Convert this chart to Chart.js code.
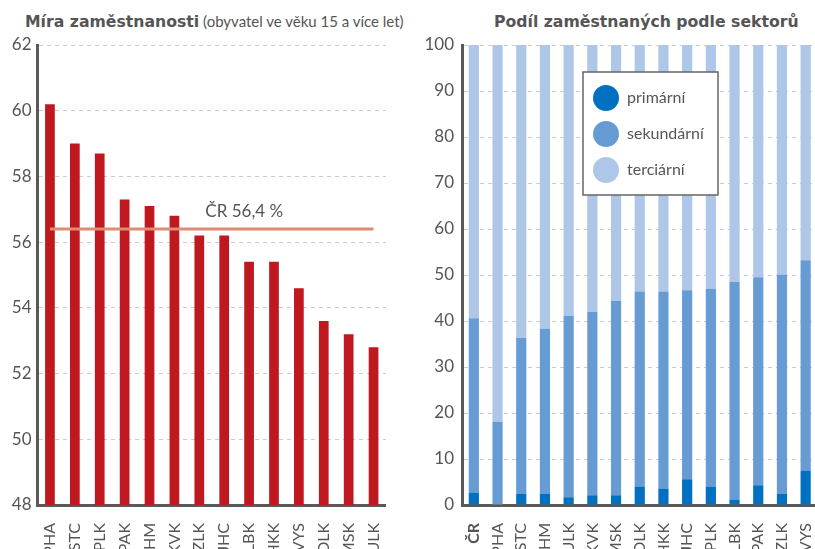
<!DOCTYPE html>
<html>
<head>
<meta charset="utf-8">
<script src="https://cdn.jsdelivr.net/npm/chart.js@4.4.1/dist/chart.umd.min.js"></script>
<style>
    html, body { margin: 0; padding: 0; width: 815px; height: 549px; overflow: hidden; background: #fff; }
    body { position: relative; font-family: Lato, "Open Sans", sans-serif; color: #555; }
    .title { position: absolute; top: 12px; font-size: 15px; white-space: nowrap; color: #555; font-family: Lato, sans-serif; }
    .title b { font-family: "DejaVu Sans", sans-serif; font-weight: bold; font-size: 15.7px; }
    #leftBox { position: absolute; left: 0; top: 0; width: 386px; height: 575px; }
    #rightBox { position: absolute; left: 405px; top: 0; width: 415px; height: 575px; }
</style>
</head>
<body>
<div class="title" style="left:25px"><b>Míra zaměstnanosti</b> (obyvatel ve věku 15 a více let)</div>
<div class="title" style="left:494px"><b>Podíl zaměstnaných podle sektorů</b></div>
<div id="leftBox"><canvas id="rateChart"></canvas></div>
<div id="rightBox"><canvas id="sectorChart"></canvas></div>

<script>
// employment rate by region (%)
const rateRegions = ['PHA', 'STC', 'PLK', 'PAK', 'JHM', 'KVK', 'ZLK', 'JHC', 'LBK', 'HKK', 'VYS', 'OLK', 'MSK', 'ULK'];
const rateValues = [60.2, 59.0, 58.7, 57.3, 57.1, 56.8, 56.2, 56.2, 55.4, 55.4, 54.6, 53.6, 53.2, 52.8];
const crRate = 56.4;
const crLine = [56.4, 56.4, 56.4, 56.4, 56.4, 56.4, 56.4, 56.4, 56.4, 56.4, 56.4, 56.4, 56.4, 56.4];
const rateTicks = [48, 50, 52, 54, 56, 58, 60, 62];

// share of employed by sector (%)
const sectorRegions = ['ČR', 'PHA', 'STC', 'JHM', 'ULK', 'KVK', 'MSK', 'OLK', 'HKK', 'JHC', 'PLK', 'LBK', 'PAK', 'ZLK', 'VYS'];
const primary   = [2.7, 0.1, 2.4, 2.4, 1.7, 2.1, 2.1, 4.0, 3.6, 5.6, 4.0, 1.2, 4.3, 2.4, 7.5];
const secondary = [37.9, 18.0, 33.9, 35.9, 39.4, 39.9, 42.3, 42.4, 42.8, 41.1, 43.0, 47.3, 45.2, 47.7, 45.7];
const tertiary  = [59.4, 81.9, 63.7, 61.7, 58.9, 58.0, 55.6, 53.6, 53.6, 53.3, 53.0, 51.5, 50.5, 49.9, 46.8];
const sectorTicks = [0, 10, 20, 30, 40, 50, 60, 70, 80, 90, 100];

const textColor = '#555555';
const axisColor = '#595959';
const gridColor = '#cccccc';
const fontFamily = 'Lato, "Open Sans", sans-serif';

const crLabelPlugin = {
    id: 'crLabel',
    afterDatasetsDraw(chart) {
        const { ctx, scales } = chart;
        const y = scales.y.getPixelForValue(crRate) - 17;
        const x = scales.x.getPixelForValue(6) + 6;
        ctx.save();
        ctx.font = '17px ' + fontFamily;
        ctx.fillStyle = textColor;
        ctx.textBaseline = 'middle';
        ctx.fillText('ČR ' + String(crRate).replace('.', ',') + ' %', x, y);
        ctx.restore();
    }
};

const sectorLegendPlugin = {
    id: 'sectorLegend',
    afterDraw(chart) {
        const { ctx, chartArea } = chart;
        const left = chartArea.left + 121;
        const top = chartArea.top + 27;
        ctx.save();
        ctx.fillStyle = '#ffffff';
        ctx.fillRect(left, top, 135, 123);
        ctx.strokeStyle = '#666666';
        ctx.lineWidth = 1.5;
        ctx.strokeRect(left, top, 135, 123);
        ctx.font = '16px ' + fontFamily;
        ctx.textBaseline = 'middle';
        chart.data.datasets.forEach((ds, i) => {
            const cy = top + 26 + i * 36;
            ctx.fillStyle = ds.backgroundColor;
            ctx.beginPath();
            ctx.arc(left + 23, cy, 13, 0, Math.PI * 2);
            ctx.fill();
            ctx.fillStyle = textColor;
            ctx.fillText(ds.label, left + 44, cy);
        });
        ctx.restore();
    }
};

function yTicksFrom(list) {
    return function (scale) {
        scale.ticks = list.map(v => ({ value: v }));
    };
}

// keep the category axis flush with the canvas edges
function xFit(s) {
    s.height = 70;
    s.paddingLeft = 0;
    s.paddingRight = 0;
}

new Chart(document.getElementById('rateChart'), {
    type: 'bar',
    data: {
        labels: rateRegions,
        datasets: [
            {
                type: 'line',
                label: 'ČR',
                data: crLine,
                borderColor: '#e08b73',
                borderWidth: 3,
                pointRadius: 0,
                order: 0
            },
            {
                label: 'Míra zaměstnanosti',
                data: rateValues,
                backgroundColor: '#c0181f',
                barPercentage: 0.39,
                categoryPercentage: 1,
                order: 1
            }
        ]
    },
    options: {
        responsive: true,
        maintainAspectRatio: false,
        animation: false,
        layout: { padding: { top: 45, right: 0, left: 0, bottom: 0 } },
        plugins: { legend: { display: false }, tooltip: { enabled: false } },
        scales: {
            x: {
                grid: { display: false },
                border: { display: true, color: axisColor, width: 3 },
                ticks: {
                    color: textColor,
                    font: { family: fontFamily, size: 16 },
                    minRotation: 90, maxRotation: 90,
                    autoSkip: false,
                    padding: 10
                },
                afterFit: xFit
            },
            y: {
                min: 48, max: 62,
                afterBuildTicks: yTicksFrom(rateTicks),
                grid: { color: gridColor, drawTicks: false, lineWidth: 1 },
                border: { display: true, color: axisColor, width: 3, dash: [4, 4] },
                ticks: { color: textColor, font: { family: fontFamily, size: 17 }, padding: 6 },
                afterFit(s) { s.width = 37.5; }
            }
        }
    },
    plugins: [crLabelPlugin]
});

new Chart(document.getElementById('sectorChart'), {
    type: 'bar',
    data: {
        labels: sectorRegions,
        datasets: [
            { label: 'primární', data: primary, backgroundColor: '#0070c0' },
            { label: 'sekundární', data: secondary, backgroundColor: '#669bd4' },
            { label: 'terciární', data: tertiary, backgroundColor: '#aec7e8' }
        ].map(ds => Object.assign(ds, { barPercentage: 0.43, categoryPercentage: 1 }))
    },
    options: {
        responsive: true,
        maintainAspectRatio: false,
        animation: false,
        layout: { padding: { top: 45, right: 2.5, left: 0, bottom: 0 } },
        plugins: { legend: { display: false }, tooltip: { enabled: false } },
        scales: {
            x: {
                stacked: true,
                grid: { display: false },
                border: { display: true, color: axisColor, width: 3 },
                ticks: {
                    color: textColor,
                    font: ctx => ({ family: fontFamily, size: 16, weight: ctx.index === 0 ? 'bold' : 'normal' }),
                    minRotation: 90, maxRotation: 90,
                    autoSkip: false,
                    padding: 10
                },
                afterFit: xFit
            },
            y: {
                stacked: true,
                min: 0, max: 100,
                afterBuildTicks: yTicksFrom(sectorTicks),
                grid: { color: gridColor, drawTicks: false, lineWidth: 1 },
                border: { display: true, color: axisColor, width: 3, dash: [4, 4] },
                ticks: { color: textColor, font: { family: fontFamily, size: 17 }, padding: 8 },
                afterFit(s) { s.width = 57; }
            }
        }
    },
    plugins: [sectorLegendPlugin]
});
</script>
</body>
</html>
